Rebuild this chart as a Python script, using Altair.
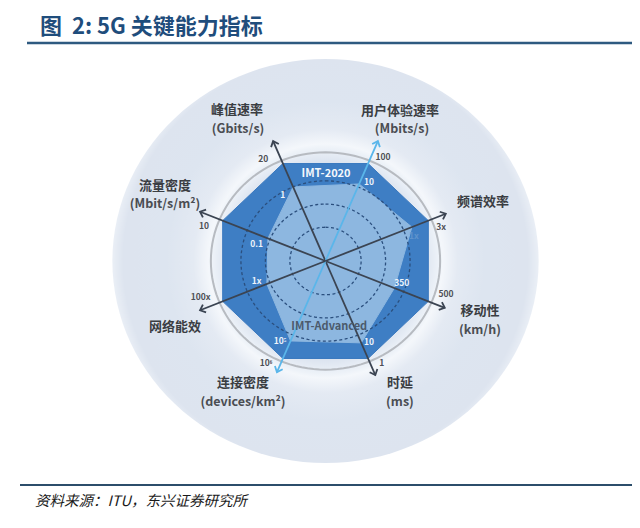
import altair as alt
import numpy as np
import pandas as pd

# ---- data ----
axes = ["峰值速率", "用户体验速率", "频谱效率", "移动性", "时延", "连接密度", "网络能效", "流量密度"]
units = ["(Gbits/s)", "(Mbits/s)", "", "(km/h)", "(ms)", "(devices/km²)", "", "(Mbit/s/m²)"]
angles = [337.5, 22.5, 67.5, 112.5, 157.5, 202.5, 247.5, 292.5]
imt2020_values = ["20", "100", "3x", "500", "1", "10⁶", "100x", "10"]
imt_adv_values = ["1", "10", "1x", "350", "10", "10⁵", "1x", "0.1"]
imt2020_r = [1.0, 1.0, 1.0, 1.0, 1.0, 1.0, 1.0, 1.0]
imt_adv_r = [0.76, 0.79, 0.84, 0.67, 0.84, 0.82, 0.57, 0.56]
highlight_axes = ["用户体验速率", "连接密度"]

# ---- layout (radar units) ----
grid_r = [0.32, 0.54, 0.76]
ring_r = 1.03
bg_r = 1.915
tip_r = [1.23, 1.23, 1.17, 1.16, 1.17, 1.14, 1.22, 1.22]
name_pos = [(-0.795, 1.428), (0.669, 1.418), (1.415, 0.559), (1.388, -0.473),
            (0.669, -1.155), (-0.741, -1.155), (-1.352, -0.626), (-1.442, 0.712)]
unit_pos = [(-0.786, 1.255), (0.687, 1.255), (0, 0), (1.388, -0.650),
            (0.669, -1.333), (-0.741, -1.333), (0, 0), (-1.442, 0.544)]
outer_pos = [(-0.559, 0.964), (0.517, 0.986), (1.038, 0.322), (1.083, -0.313),
             (0.505, -0.964), (-0.535, -0.967), (-1.121, -0.341), (-1.092, 0.332)]
inner_pos = [(-0.385, 0.626), (0.391, 0.752), (0.795, 0.237), (0.685, -0.211),
             (0.391, -0.765), (-0.409, -0.755), (-0.618, -0.187), (-0.618, 0.161)]

W, H = 624, 512
CX, CY = 317.5, 253.0   # centre in plot pixels
UX, UY = 111.3, 105.5   # pixels per radar unit
xs = alt.Scale(domain=[-CX / UX, (W - CX) / UX], nice=False, zero=False)
ys = alt.Scale(domain=[-(H - CY) / UY, CY / UY], nice=False, zero=False)
FONT = "Noto Sans CJK SC"


def XY():
    return dict(x=alt.X("x:Q", scale=xs, axis=None), y=alt.Y("y:Q", scale=ys, axis=None))


def polar(r, a):
    t = np.radians(a)
    return r * np.sin(t), r * np.cos(t)


def poly(rs, name):
    xx, yy = polar(np.array(rs), np.array(angles))
    return pd.DataFrame({"x": xx, "y": yy, "i": range(len(rs)), "s": name})


circ_a = np.arange(0, 360, 3)


def circle(r, name):
    xx, yy = polar(r, circ_a)
    return pd.DataFrame({"x": xx, "y": yy, "i": range(len(circ_a)), "s": name})


bg = alt.Chart(circle(bg_r, "bg")).mark_line(
    interpolate="linear-closed", strokeWidth=0,
    fill=alt.Gradient(gradient="radial", x1=0.5, y1=0.5, r1=0, x2=0.5, y2=0.5, r2=0.5,
                      stops=[alt.GradientStop(color="#d9e2ee", offset=0),
                             alt.GradientStop(color="#dbe3ef", offset=0.46),
                             alt.GradientStop(color="#edf2f8", offset=0.53),
                             alt.GradientStop(color="#f4f7fb", offset=0.55),
                             alt.GradientStop(color="#e4eaf3", offset=0.62),
                             alt.GradientStop(color="#dde5f0", offset=0.75),
                             alt.GradientStop(color="#dde4ef", offset=0.95),
                             alt.GradientStop(color="#eaeff6", offset=1)])
).encode(**XY(), order="i:Q")

ring = alt.Chart(circle(ring_r, "ring")).mark_line(
    interpolate="linear-closed", stroke="#b7bbc1", strokeWidth=2
).encode(**XY(), order="i:Q")

octa = alt.Chart(poly(imt2020_r, "2020")).mark_line(
    interpolate="linear-closed", fill="#3e7ec4", stroke="#3a79bf", strokeWidth=1
).encode(**XY(), order="i:Q")

adv = alt.Chart(poly(imt_adv_r, "adv")).mark_line(
    interpolate="linear-closed", fill="#8db7e0", stroke="#8db7e0", strokeWidth=1
).encode(**XY(), order="i:Q")

grid_df = pd.concat([circle(r, f"g{k}") for k, r in enumerate(grid_r)])
grid = alt.Chart(grid_df).mark_line(
    interpolate="linear-closed", stroke="#2b4f7e", strokeWidth=1.3, strokeDash=[3, 2.5]
).encode(**XY(), order="i:Q", detail="s:N")

tx, ty = polar(np.array(tip_r), np.array(angles))
axes_df = pd.DataFrame({"axis": axes, "x": tx, "y": ty, "ang": angles, "x0": 0.0, "y0": 0.0})
col = alt.condition(alt.FieldOneOfPredicate(field="axis", oneOf=highlight_axes),
                    alt.value("#5ab6ea"), alt.value("#3b4452"))
axis_lines = alt.Chart(axes_df).mark_rule(strokeWidth=1.8).encode(
    x=alt.X("x0:Q", scale=xs, axis=None), y=alt.Y("y0:Q", scale=ys, axis=None),
    x2="x:Q", y2="y:Q", color=col)
heads = alt.Chart(axes_df).mark_point(
    shape="M-1,1.15L0,0L1,1.15", size=70, filled=False, strokeWidth=1.8, opacity=1
).encode(**XY(), angle=alt.Angle("ang:Q", scale=None), color=col)

names_df = pd.DataFrame({"t": axes, "x": [p[0] for p in name_pos], "y": [p[1] for p in name_pos]})
names = alt.Chart(names_df).mark_text(font=FONT, fontSize=13, fontWeight="bold", color="#3a3d42").encode(**XY(), text="t:N")

units_df = pd.DataFrame({"t": units, "x": [p[0] for p in unit_pos], "y": [p[1] for p in unit_pos]})
units_df = units_df[units_df["t"] != ""]
unit_txt = alt.Chart(units_df).mark_text(font=FONT, fontSize=12.5, fontWeight="bold", color="#4a4d52").encode(**XY(), text="t:N")

outer_df = pd.DataFrame({"t": imt2020_values, "x": [p[0] for p in outer_pos], "y": [p[1] for p in outer_pos]})
outer_txt = alt.Chart(outer_df).mark_text(font=FONT, fontSize=8.5, fontWeight="bold", color="#4d4f55").encode(**XY(), text="t:N")

inner_df = pd.DataFrame({"t": imt_adv_values, "x": [p[0] for p in inner_pos], "y": [p[1] for p in inner_pos],
                         "axis": axes})
inner_txt = alt.Chart(inner_df).mark_text(font=FONT, fontSize=8.5, fontWeight="bold").encode(
    **XY(), text="t:N",
    color=alt.condition(alt.FieldEqualPredicate(field="axis", equal="频谱效率"),
                        alt.value("#5f93cc"), alt.value("#eef4fb")))

series_df = pd.DataFrame({"t": ["IMT-2020", "IMT-Advanced"], "x": [0.005, 0.034], "y": [0.825, -0.623],
                          "c": ["w", "d"]})
series_txt = alt.Chart(series_df).mark_text(font=FONT, fontSize=11, fontWeight="bold").encode(
    **XY(), text="t:N",
    color=alt.Color("c:N", scale=alt.Scale(domain=["w", "d"], range=["#f4f8fc", "#4b5a6c"]), legend=None))

title = alt.Chart(pd.DataFrame({"t": ["图\u00a0\u00a02:\u00a05G\u00a0关键能力指标"]})).mark_text(
    font=FONT, fontSize=22, fontWeight="bold", color="#1f4d7c", align="left", baseline="alphabetic"
).encode(x=alt.value(32), y=alt.value(26), text="t:N")

top_rule = alt.Chart(pd.DataFrame({"k": ["top"]})).mark_rule(color="#2e5a80", strokeWidth=2.5).encode(
    x=alt.value(19), x2=alt.value(W), y=alt.value(35))
bottom_rule = alt.Chart(pd.DataFrame({"k": ["bottom"]})).mark_rule(color="#2c4e6b", strokeWidth=2).encode(
    x=alt.value(12), x2=alt.value(W), y=alt.value(477))

source = alt.Chart(pd.DataFrame({"t": ["资料来源：ITU，东兴证券研究所"]})).mark_text(
    font=FONT, fontSize=14.5, fontStyle="italic", color="#1a1a1a", align="left", baseline="middle"
).encode(x=alt.value(27), y=alt.value(494), text="t:N")

chart = alt.layer(
    bg, ring, octa, adv, grid, axis_lines, heads, names, unit_txt, outer_txt, inner_txt,
    series_txt, title, top_rule, bottom_rule, source
).properties(
    width=W, height=H, autosize=alt.AutoSizeParams(type="none"), padding=0
).configure_view(stroke=None)

chart.save("out.html", embed_options={"renderer": "svg", "actions": False})
